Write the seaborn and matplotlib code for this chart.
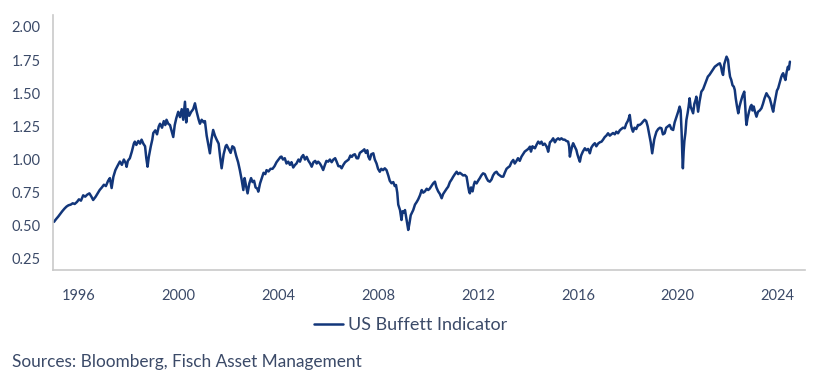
import numpy as np
import pandas as pd
import matplotlib
matplotlib.use("Agg")
import matplotlib.pyplot as plt
import seaborn as sns

OUT_PATH = "out.png"

LINE_COLOR  = "#12367a"
TEXT_COLOR  = "#3b4a68"
SPINE_COLOR = "#c9c9c9"
TICK_COLOR  = "#595959"

SERIES_LABEL = "US Buffett Indicator"
SOURCE_TEXT  = "Sources: Bloomberg, Fisch Asset Management"

X_TICKS = [1996, 2000, 2004, 2008, 2012, 2016, 2020, 2024]
Y_TICKS = [0.25, 0.50, 0.75, 1.00, 1.25, 1.50, 1.75, 2.00]

# decimal year / indicator value
years = [
    1995.00, 1995.08, 1995.17, 1995.25, 1995.33, 1995.42, 1995.50, 1995.58, 1995.67, 1995.75, 1995.83, 1995.92,
    1996.00, 1996.08, 1996.17, 1996.25, 1996.33, 1996.42, 1996.50, 1996.57, 1996.67, 1996.75, 1996.83, 1996.92,
    1997.00, 1997.08, 1997.17, 1997.24, 1997.31, 1997.38, 1997.46, 1997.54, 1997.64, 1997.72, 1997.80, 1997.88, 1997.91, 1997.96,
    1998.04, 1998.12, 1998.20, 1998.24, 1998.30, 1998.38, 1998.45, 1998.51, 1998.58, 1998.65, 1998.70, 1998.75, 1998.80, 1998.88, 1998.94, 1998.98,
    1999.06, 1999.13, 1999.20, 1999.25, 1999.33, 1999.40, 1999.46, 1999.51, 1999.58, 1999.65, 1999.72, 1999.78, 1999.84, 1999.90, 1999.98,
    2000.05, 2000.12, 2000.18, 2000.25, 2000.30, 2000.36, 2000.42, 2000.50, 2000.58, 2000.65, 2000.72, 2000.80, 2000.85, 2000.92,
    2001.00, 2001.05, 2001.12, 2001.20, 2001.25, 2001.31, 2001.38, 2001.45, 2001.52, 2001.60, 2001.66, 2001.72, 2001.80, 2001.88, 2001.92,
    2002.00, 2002.08, 2002.15, 2002.22, 2002.30, 2002.38, 2002.45, 2002.52, 2002.59, 2002.64, 2002.70, 2002.76, 2002.83, 2002.90, 2002.96,
    2003.02, 2003.08, 2003.15, 2003.19, 2003.26, 2003.33, 2003.40, 2003.47, 2003.52, 2003.60, 2003.68, 2003.76, 2003.84, 2003.92,
    2004.00, 2004.08, 2004.12, 2004.18, 2004.25, 2004.32, 2004.39, 2004.46, 2004.52, 2004.59, 2004.66, 2004.72, 2004.80, 2004.86, 2004.93, 2004.99,
    2005.06, 2005.13, 2005.20, 2005.27, 2005.33, 2005.40, 2005.47, 2005.53, 2005.59, 2005.66, 2005.72, 2005.79, 2005.86, 2005.92, 2005.99,
    2006.06, 2006.13, 2006.20, 2006.27, 2006.33, 2006.40, 2006.47, 2006.53, 2006.60, 2006.67, 2006.74, 2006.81, 2006.88, 2006.94, 2006.99,
    2007.06, 2007.13, 2007.19, 2007.26, 2007.33, 2007.40, 2007.44, 2007.50, 2007.56, 2007.60, 2007.66, 2007.72, 2007.80, 2007.86, 2007.93, 2007.99,
    2008.06, 2008.12, 2008.19, 2008.26, 2008.33, 2008.40, 2008.46, 2008.53, 2008.60, 2008.66, 2008.71, 2008.76, 2008.80, 2008.85, 2008.87, 2008.90, 2008.93, 2008.97,
    2009.03, 2009.07, 2009.12, 2009.17, 2009.20, 2009.25, 2009.30, 2009.35, 2009.40, 2009.47, 2009.54, 2009.60, 2009.67, 2009.74, 2009.80, 2009.87, 2009.94,
    2010.00, 2010.06, 2010.13, 2010.20, 2010.27, 2010.33, 2010.40, 2010.47, 2010.54, 2010.60, 2010.67, 2010.74, 2010.80, 2010.87, 2010.94,
    2011.00, 2011.07, 2011.14, 2011.20, 2011.27, 2011.34, 2011.40, 2011.47, 2011.54, 2011.60, 2011.64, 2011.67, 2011.72, 2011.78, 2011.83, 2011.87, 2011.94,
    2012.00, 2012.07, 2012.13, 2012.20, 2012.27, 2012.34, 2012.40, 2012.47, 2012.54, 2012.60, 2012.67, 2012.74, 2012.80, 2012.87, 2012.94,
    2013.01, 2013.07, 2013.14, 2013.20, 2013.27, 2013.34, 2013.41, 2013.47, 2013.54, 2013.60, 2013.67, 2013.74, 2013.80, 2013.87, 2013.94,
    2014.01, 2014.08, 2014.12, 2014.18, 2014.24, 2014.28, 2014.34, 2014.41, 2014.48, 2014.54, 2014.60, 2014.67, 2014.74, 2014.78, 2014.81, 2014.88, 2014.94,
    2015.01, 2015.08, 2015.14, 2015.21, 2015.27, 2015.34, 2015.41, 2015.47, 2015.54, 2015.61, 2015.65, 2015.68, 2015.72, 2015.77, 2015.81, 2015.87, 2015.94, 2015.98,
    2016.03, 2016.08, 2016.13, 2016.20, 2016.28, 2016.34, 2016.41, 2016.48, 2016.54, 2016.61, 2016.68, 2016.74, 2016.81, 2016.88, 2016.95,
    2017.01, 2017.08, 2017.14, 2017.21, 2017.28, 2017.34, 2017.41, 2017.48, 2017.54, 2017.61, 2017.68, 2017.74, 2017.81, 2017.88, 2017.94,
    2018.00, 2018.04, 2018.08, 2018.13, 2018.17, 2018.21, 2018.27, 2018.34, 2018.41, 2018.47, 2018.54, 2018.61, 2018.68, 2018.74, 2018.80, 2018.85, 2018.88, 2018.92, 2018.95, 2018.98,
    2019.02, 2019.06, 2019.09, 2019.15, 2019.22, 2019.29, 2019.35, 2019.41, 2019.48, 2019.54, 2019.61, 2019.68, 2019.75, 2019.82, 2019.88, 2019.95,
    2020.02, 2020.08, 2020.12, 2020.16, 2020.19, 2020.21, 2020.24, 2020.27, 2020.31, 2020.35, 2020.40, 2020.44, 2020.48, 2020.52, 2020.56, 2020.62, 2020.67, 2020.72, 2020.75, 2020.79, 2020.82, 2020.88, 2020.95,
    2021.02, 2021.08, 2021.14, 2021.21, 2021.28, 2021.35, 2021.42, 2021.49, 2021.56, 2021.63, 2021.69, 2021.74, 2021.78, 2021.82, 2021.87, 2021.92, 2021.96,
    2022.02, 2022.06, 2022.10, 2022.15, 2022.20, 2022.25, 2022.29, 2022.33, 2022.38, 2022.43, 2022.48, 2022.53, 2022.60, 2022.67, 2022.71, 2022.74, 2022.76, 2022.80, 2022.86, 2022.92, 2022.96,
    2023.00, 2023.05, 2023.10, 2023.16, 2023.22, 2023.29, 2023.36, 2023.42, 2023.48, 2023.52, 2023.56, 2023.62, 2023.69, 2023.75, 2023.80, 2023.83, 2023.88, 2023.94, 2023.98,
    2024.03, 2024.09, 2024.15, 2024.19, 2024.23, 2024.28, 2024.32, 2024.37, 2024.42, 2024.46, 2024.50,
]

values = [
    0.53, 0.55, 0.57, 0.59, 0.61, 0.63, 0.645, 0.655, 0.66, 0.67, 0.665, 0.68,
    0.70, 0.69, 0.73, 0.72, 0.735, 0.745, 0.72, 0.695, 0.72, 0.745, 0.77, 0.79,
    0.81, 0.80, 0.84, 0.86, 0.785, 0.87, 0.92, 0.95, 0.985, 0.96, 1.00, 0.97, 0.945, 0.99,
    1.01, 1.06, 1.12, 1.135, 1.11, 1.14, 1.12, 1.15, 1.12, 1.10, 1.01, 0.946, 1.02, 1.10, 1.15, 1.20,
    1.22, 1.19, 1.25, 1.27, 1.24, 1.29, 1.26, 1.30, 1.27, 1.26, 1.21, 1.17, 1.26, 1.31, 1.36,
    1.32, 1.38, 1.30, 1.436, 1.28, 1.38, 1.33, 1.36, 1.38, 1.424, 1.36, 1.30, 1.27, 1.30,
    1.28, 1.29, 1.18, 1.10, 1.047, 1.15, 1.223, 1.18, 1.15, 1.12, 1.02, 0.934, 1.04, 1.10, 1.11,
    1.08, 1.05, 1.10, 1.09, 1.03, 0.98, 0.92, 0.85, 0.77, 0.86, 0.80, 0.745, 0.82, 0.86, 0.83,
    0.84, 0.79, 0.78, 0.758, 0.82, 0.86, 0.90, 0.89, 0.92, 0.91, 0.93, 0.93, 0.95, 0.98,
    1.00, 1.02, 1.022, 1.00, 1.01, 0.97, 0.984, 0.96, 0.98, 0.94, 0.959, 0.97, 1.00, 0.984, 1.02, 1.034,
    1.00, 1.02, 0.99, 0.97, 0.946, 0.98, 0.99, 0.97, 0.984, 0.97, 0.95, 0.921, 0.96, 0.99, 0.984,
    1.00, 0.98, 1.00, 1.01, 0.984, 0.95, 0.95, 0.934, 0.96, 0.98, 0.99, 1.00, 1.03, 1.02, 1.034,
    1.04, 1.01, 1.009, 1.05, 1.06, 1.07, 1.077, 1.05, 1.07, 1.022, 1.00, 1.04, 1.047, 1.00, 0.97, 0.93,
    0.908, 0.93, 0.92, 0.934, 0.92, 0.88, 0.84, 0.821, 0.83, 0.80, 0.808, 0.75, 0.66, 0.63, 0.619, 0.58, 0.544, 0.61,
    0.60, 0.619, 0.56, 0.50, 0.469, 0.52, 0.58, 0.60, 0.619, 0.66, 0.68, 0.70, 0.73, 0.77, 0.75, 0.76, 0.78,
    0.77, 0.78, 0.80, 0.82, 0.833, 0.79, 0.76, 0.74, 0.708, 0.74, 0.76, 0.78, 0.795, 0.83, 0.85,
    0.87, 0.89, 0.908, 0.89, 0.90, 0.89, 0.88, 0.883, 0.87, 0.80, 0.76, 0.745, 0.79, 0.76, 0.81, 0.833, 0.82,
    0.84, 0.86, 0.88, 0.896, 0.89, 0.86, 0.84, 0.833, 0.85, 0.88, 0.90, 0.908, 0.89, 0.88, 0.871,
    0.871, 0.90, 0.93, 0.94, 0.95, 0.98, 0.997, 0.97, 0.99, 1.01, 0.99, 1.022, 1.04, 1.06, 1.07,
    1.08, 1.097, 1.06, 1.10, 1.09, 1.085, 1.11, 1.135, 1.12, 1.135, 1.11, 1.12, 1.10, 1.08, 1.059, 1.13, 1.14,
    1.16, 1.13, 1.15, 1.16, 1.15, 1.16, 1.15, 1.15, 1.14, 1.135, 1.10, 1.022, 1.06, 1.10, 1.123, 1.10, 1.072, 1.04,
    1.01, 0.984, 1.03, 1.06, 1.085, 1.07, 1.08, 1.047, 1.09, 1.11, 1.123, 1.10, 1.12, 1.13, 1.135,
    1.15, 1.17, 1.18, 1.198, 1.18, 1.19, 1.20, 1.19, 1.21, 1.198, 1.22, 1.23, 1.24, 1.236, 1.27,
    1.29, 1.31, 1.336, 1.26, 1.23, 1.210, 1.24, 1.23, 1.261, 1.26, 1.27, 1.286, 1.30, 1.29, 1.25, 1.20, 1.172, 1.13, 1.09, 1.047,
    1.10, 1.15, 1.172, 1.21, 1.23, 1.24, 1.236, 1.19, 1.198, 1.24, 1.25, 1.261, 1.23, 1.223, 1.28, 1.32,
    1.36, 1.399, 1.37, 1.20, 1.02, 0.934, 1.06, 1.14, 1.20, 1.298, 1.35, 1.40, 1.462, 1.40, 1.38, 1.349, 1.42, 1.45, 1.474, 1.41, 1.361, 1.44, 1.512,
    1.53, 1.56, 1.59, 1.625, 1.64, 1.66, 1.68, 1.70, 1.71, 1.72, 1.726, 1.70, 1.66, 1.638, 1.72, 1.75, 1.776,
    1.751, 1.68, 1.625, 1.60, 1.56, 1.55, 1.525, 1.46, 1.40, 1.349, 1.40, 1.436, 1.48, 1.512, 1.40, 1.30, 1.261, 1.31, 1.36, 1.40, 1.412,
    1.37, 1.40, 1.36, 1.323, 1.36, 1.37, 1.387, 1.42, 1.46, 1.48, 1.500, 1.48, 1.462, 1.42, 1.38, 1.361, 1.42, 1.48, 1.52,
    1.538, 1.58, 1.62, 1.64, 1.651, 1.62, 1.600, 1.66, 1.70, 1.68, 1.738,
]


def build_frame():
    df = pd.DataFrame({"year": years, "value": values})
    return df


def draw(df):
    sns.set_style("white")
    plt.rcParams["font.family"] = ["Lato", "DejaVu Sans"]

    fig = plt.figure(figsize=(8.13, 3.80), dpi=100)
    ax = fig.add_axes([0.0652, 0.2895, 0.9248, 0.671])

    sns.lineplot(data=df, x="year", y="value", ax=ax,
                 color=LINE_COLOR, linewidth=1.8, label=SERIES_LABEL)

    ax.set_xlim(1994.96, 2025.1)
    ax.set_ylim(0.167, 2.09)
    ax.set_xticks(X_TICKS)
    ax.set_xticklabels([str(y) for y in X_TICKS])
    ax.set_yticks(Y_TICKS)
    ax.set_yticklabels([f"{v:.2f}" for v in Y_TICKS])
    ax.set_xlabel("")
    ax.set_ylabel("")

    for side in ["top", "right"]:
        ax.spines[side].set_visible(False)
    for side in ["left", "bottom"]:
        ax.spines[side].set_color(SPINE_COLOR)
        ax.spines[side].set_linewidth(1.2)

    ax.tick_params(axis="x", direction="out", length=5.5, width=1.2,
                   color=TICK_COLOR, labelcolor=TEXT_COLOR, labelsize=10.5, pad=8)
    ax.tick_params(axis="y", direction="out", length=6, width=1.0,
                   color=TICK_COLOR, labelcolor=TEXT_COLOR, labelsize=10.5, pad=3)

    ax.get_legend().remove()
    handles, labels = ax.get_legend_handles_labels()
    fig.legend(handles, labels, loc="center", bbox_to_anchor=(0.505, 0.145),
               frameon=False, fontsize=13, handlelength=1.6, handletextpad=0.3,
               labelcolor=TEXT_COLOR)

    fig.text(12 / 813, 1 - 362 / 380, SOURCE_TEXT, ha="left", va="center",
             fontsize=12.4, color=TEXT_COLOR)

    fig.savefig(OUT_PATH, dpi=100)
    plt.close(fig)


if __name__ == "__main__":
    assert len(years) == len(values)
    draw(build_frame())
